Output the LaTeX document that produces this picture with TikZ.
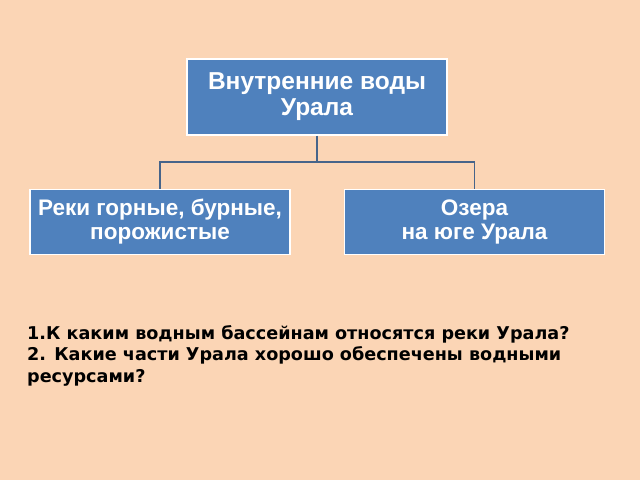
\documentclass[tikz,border=0pt]{standalone}
\usepackage{fontspec}
\setmainfont{Liberation Sans}
\newfontfamily\qfont{DejaVu Sans}
\usetikzlibrary{positioning}
\definecolor{peach}{HTML}{FBD5B5}
\definecolor{boxblue}{HTML}{4F81BD}
\definecolor{linkblue}{HTML}{46648A}
\tikzset{
  topic/.style={draw=white, line width=1.2pt, fill=boxblue, text=white,
    font=\fontsize{22.5}{24}\selectfont\bfseries, align=center,
    minimum width=260pt, minimum height=65pt, inner sep=2pt},
  link/.style={draw=linkblue, line width=1.2pt}
}
\begin{document}
\begin{tikzpicture}[x=1pt,y=-1pt]
  \fill[peach] (0,0) rectangle (640,480);
  \useasboundingbox (0,0) rectangle (640,480);
  % boxes
  \node[topic, minimum height=76pt, font=\fontsize{24.5}{26}\selectfont\bfseries] (inner) at (317,97) {Внутренние воды\\Урала};
  \node[topic] (rivers) at (160,222) {Реки горные, бурные,\\порожистые};
  \node[topic] (lakes) at (474.5,222) {Озера\\на юге Урала};
  \coordinate (fork) at (317,162);
  % links
  \draw[link] (inner.south) -- (fork);
  \draw[link] (fork) -| (rivers.north);
  \draw[link] (fork) -| (lakes.north);
  % questions
  \node[anchor=north west, align=left, inner sep=0pt,
    font=\qfont\fontsize{17.6}{21.5}\selectfont\bfseries] (quest) at (27,325)
    {1.К каким водным бассейнам относятся реки Урала?\\
     2. Какие части Урала хорошо обеспечены водными\\
     ресурсами?};
\end{tikzpicture}
\end{document}
